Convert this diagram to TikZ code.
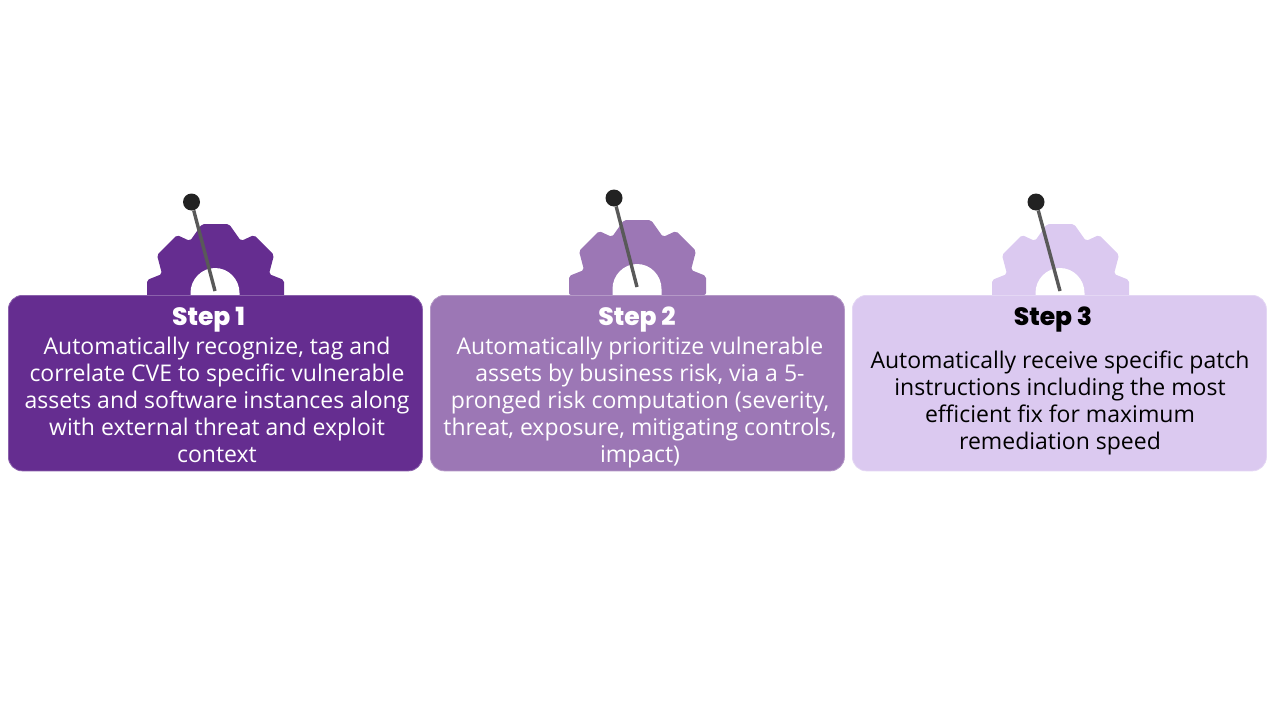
\documentclass[tikz,border=0pt]{standalone}
\usepackage{fontspec}
\setmainfont{Open Sans}
\newfontfamily\titlefont{Poppins ExtraBold}
\definecolor{cA}{HTML}{652D90}
\definecolor{cB}{HTML}{9C77B5}
\definecolor{cC}{HTML}{DBC9F0}
\definecolor{pinball}{HTML}{222222}
\definecolor{pinrod}{HTML}{595959}
\tikzset{
  x=1pt,y=-1pt,
  panel/.style={draw=#1!75!white,line width=0.8pt,fill=#1,rounded corners=14pt,minimum width=414pt,minimum height=175.5pt,inner sep=0pt,anchor=north west},
  ttl/.style={font=\titlefont\fontsize{25}{27}\selectfont,inner sep=0pt,anchor=center},
  body/.style={font=\fontsize{23}{27}\selectfont,align=center,inner sep=0pt,anchor=north},
  ball/.style={circle,fill=pinball,minimum size=17pt,inner sep=0pt},
  rod/.style={draw=pinrod,line width=3.4pt},
}
\newcommand{\gearshape}[3]{%
  \fill[#3,rounded corners=2pt] (#1,#2)
    ++(-68,4) -- ++(0,-19) -- ++(15,-6) -- ++(-5,-19) -- ++(20,-20) -- ++(13,6) -- ++(12,-17)
    -- ++(27,0) -- ++(12,17) -- ++(13,-6) -- ++(20,20) -- ++(-5,19) -- ++(15,6) -- ++(0,19) -- cycle;
  \fill[white] (#1,#2) ++(24.5,4) -- ++(0,-6) arc[start angle=0,end angle=-180,x radius=24.5,y radius=25] -- ++(0,6) -- cycle;
}
\begin{document}
\begin{tikzpicture}
\useasboundingbox (0,0) rectangle (1280,720);
\gearshape{215}{295}{cA}
\gearshape{637}{291}{cB}
\gearshape{1060}{295}{cC}
\node[panel=cA] (p1) at (8,295) {};
\node[panel=cB] (p2) at (430,295) {};
\node[panel=cC] (p3) at (852,295) {};
\node[ball] (b1) at (191.5,202) {};
\node[ball] (b2) at (614,198) {};
\node[ball] (b3) at (1036,202) {};
\coordinate (e1) at (215,291);
\coordinate (e2) at (637,287);
\coordinate (e3) at (1060,291);
\draw[rod] (b1) -- (e1);
\draw[rod] (b2) -- (e2);
\draw[rod] (b3) -- (e3);
\node[ttl,text=white] (t1) at (208.5,320) {Step 1};
\node[ttl,text=white] (t2) at (637,320) {Step 2};
\node[ttl,text=black] (t3) at (1053,320) {Step 3};
\node[body,text=white] (d1) at (217,336.5) {Automatically recognize, tag and\\correlate CVE to specific vulnerable\\assets and software instances along\\with external threat and exploit\\context};
\node[body,text=white] (d2) at (640,336.5) {Automatically prioritize vulnerable\\assets by business risk, via a 5-\\pronged risk computation (severity,\\threat, exposure, mitigating controls,\\impact)};
\node[body,text=black] (d3) at (1060,350.5) {Automatically receive specific patch\\instructions including the most\\efficient fix for maximum\\remediation speed};
\end{tikzpicture}
\end{document}
